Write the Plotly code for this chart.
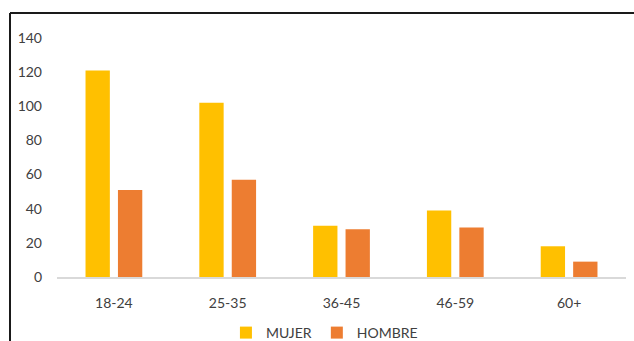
import plotly.graph_objects as go

# Age groups and respondent counts by sex
grupos = ["18-24", "25-35", "36-45", "46-59", "60+"]
mujer = [121, 102, 30, 39, 18]
hombre = [51, 57, 28, 29, 9]

W, H = 634, 341
ML, MR, MT, MB = 57, 8, 38, 64

fig = go.Figure()
fig.add_trace(go.Bar(name="MUJER", x=grupos, y=mujer,
                     marker=dict(color="#FFC000", line=dict(width=0))))
fig.add_trace(go.Bar(name="HOMBRE", x=grupos, y=hombre,
                     marker=dict(color="#ED7D31", line=dict(width=0))))

# Outer frame (top and left edges of the chart box)
pw, ph = W - ML - MR, H - MT - MB
def px_x(v):
    return (v - ML) / pw
def px_y(v):
    return 1 - (v - MT) / ph

frame = dict(color="#1a1a1a", width=2)
fig.add_shape(type="line", xref="paper", yref="paper",
              x0=px_x(10), x1=px_x(W + 5), y0=px_y(13), y1=px_y(13), line=frame)
fig.add_shape(type="line", xref="paper", yref="paper",
              x0=px_x(10), x1=px_x(10), y0=px_y(13), y1=px_y(H + 5), line=frame)

fig.update_layout(
    width=W, height=H,
    margin=dict(l=ML, r=MR, t=MT, b=MB, autoexpand=False),
    paper_bgcolor="white", plot_bgcolor="white",
    barmode="group", bargap=0.43, bargroupgap=0.25,
    font=dict(family="Lato, Liberation Sans, sans-serif", size=14, color="#404040"),
    showlegend=True,
    legend=dict(orientation="h", x=0.47, xanchor="center", y=px_y(333), yanchor="middle",
                font=dict(size=14, color="#404040"), itemwidth=30, traceorder="normal",
                tracegroupgap=0),
    xaxis=dict(showline=True, linecolor="#D9D9D9", linewidth=2, ticks="",
               showgrid=False, zeroline=False, ticklabelstandoff=12),
    yaxis=dict(range=[0, 140], dtick=20, showgrid=False, zeroline=False, showline=False,
               ticks="", ticklabelstandoff=14),
)

fig.write_html("out.html")
